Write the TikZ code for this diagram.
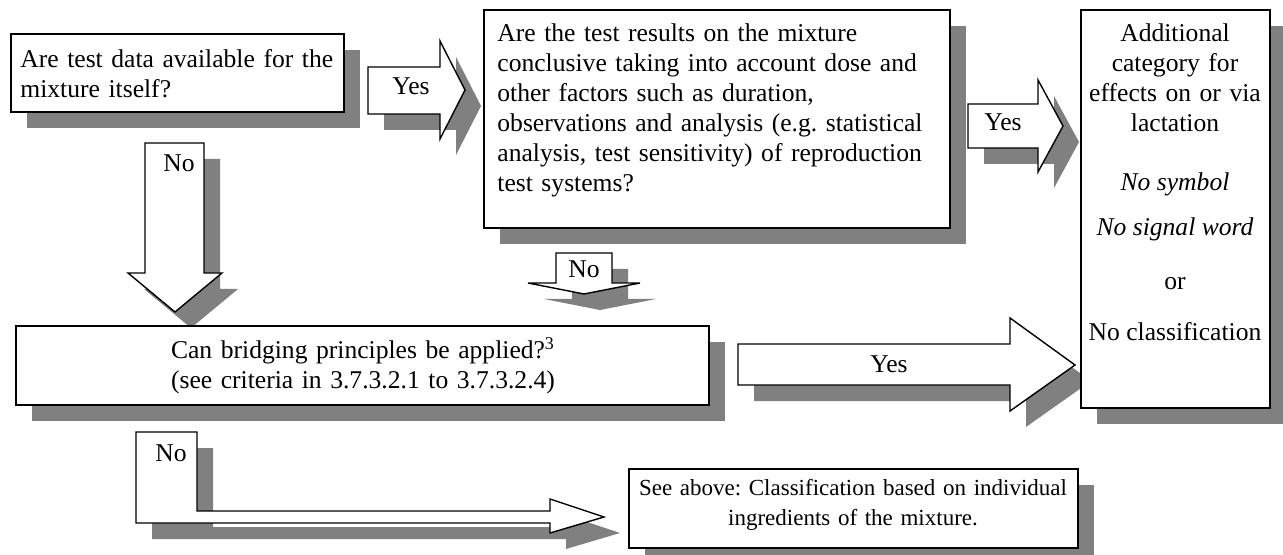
\documentclass[tikz,border=0pt]{standalone}
\usepackage{fontspec}
\setmainfont{Liberation Serif}
\usetikzlibrary{shadows,fit}
\definecolor{shgray}{HTML}{808080}
\frenchspacing
\begin{document}
\begin{tikzpicture}[x=0.5pt,y=-0.5pt,
  font=\fontsize{12.8pt}{15pt}\selectfont,
  shad/.style={drop shadow={shadow xshift=8pt,shadow yshift=-8pt,fill=shgray,opacity=1}},
  frame/.style={draw=black,line width=0.8pt,fill=white,inner sep=0pt,shad},
  blockarrow/.style={draw=black,line width=0.7pt,fill=white,line join=miter,shad},
  txt/.style={inner sep=0pt},
  ]
\useasboundingbox (0,0) rectangle (1283,555);

% block arrows
\draw[blockarrow] (368,67) -- (440,67) -- (440,41) -- (465,90) -- (440,139) -- (440,114) -- (368,114) -- cycle;
\node[txt,anchor=base] (yesA) at (411,95) {Yes};

\draw[blockarrow] (968,104) -- (1038,104) -- (1038,80) -- (1063,126) -- (1038,172) -- (1038,148) -- (968,148) -- cycle;
\node[txt,anchor=base] (yesB) at (1003,131) {Yes};

\draw[blockarrow] (145,143) -- (204,143) -- (204,273) -- (222,273) -- (175,312) -- (128,273) -- (145,273) -- cycle;
\node[txt,anchor=base] (noA) at (179,172) {No};

\draw[blockarrow] (556,253) -- (612,253) -- (612,283) -- (640,283) -- (584,294) -- (528,283) -- (556,283) -- cycle;
\node[txt,anchor=base] (noB) at (584,278) {No};

\draw[blockarrow] (738,344) -- (1010,344) -- (1010,318) -- (1075,365) -- (1010,411) -- (1010,385) -- (738,385) -- cycle;
\node[txt,anchor=base] (yesC) at (889,372) {Yes};

\draw[blockarrow] (136,432) -- (197,432) -- (197,511) -- (550,511) -- (550,499) -- (604,517) -- (550,533) -- (550,523) -- (136,523) -- cycle;
\node[txt,anchor=base] (noC) at (171,461) {No};

% boxes
\node[frame,fit={(11,34) (344,112)}] (A) {};
\node[txt,anchor=base west,text width=170pt,align=left] (tA) at (20,68)
  {Are test data available for the\\mixture itself?};

\node[frame,fit={(484,10) (950,228)}] (B) {};
\node[txt,anchor=base west,text width=230pt,align=left] (tB) at (497,42)
  {Are the test results on the mixture\\conclusive taking into account dose and\\other factors such as duration,\\observations and analysis (e.g. statistical\\analysis, test sensitivity) of reproduction\\test systems?};

\node[frame,fit={(16,326) (709,405)}] (C) {};
\node[txt,anchor=base,text width=300pt,align=center] (tC) at (363,358)
  {Can bridging principles be applied?\textsuperscript{3}\\(see criteria in 3.7.3.2.1 to 3.7.3.2.4)};

\node[frame,fit={(1081,10) (1270,408)}] (D) {};
\node[txt,anchor=base,text width=90pt,align=center] (tD1) at (1175,42)
  {Additional\\category for\\effects on or via\\lactation};
\node[txt,anchor=base] (tD2) at (1175,191) {\itshape No symbol};
\node[txt,anchor=base] (tD3) at (1175,236) {\itshape No signal word};
\node[txt,anchor=base] (tD4) at (1175,290) {or};
\node[txt,anchor=base] (tD5) at (1175,341) {No classification};

\node[frame,fit={(629,469) (1078,548)}] (E) {};
\node[txt,anchor=base,text width=300pt,align=center,font=\fontsize{11.5pt}{15pt}\selectfont] (tE) at (853,495)
  {See above: Classification based on individual\\ingredients of the mixture.};
\end{tikzpicture}
\end{document}
